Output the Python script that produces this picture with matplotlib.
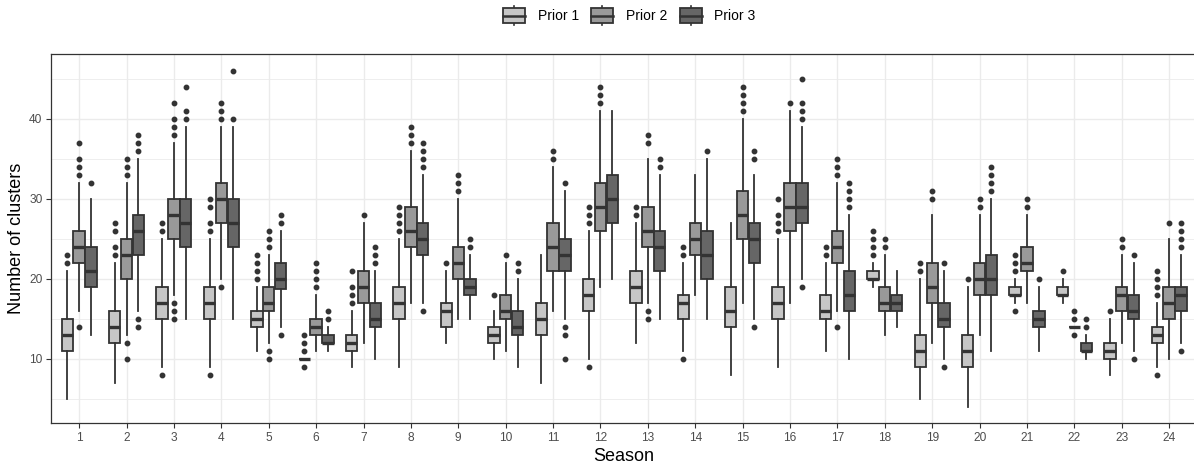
import matplotlib
matplotlib.use("Agg")
import matplotlib.pyplot as plt
from matplotlib.patches import Rectangle
from matplotlib.lines import Line2D
from matplotlib.legend_handler import HandlerBase

plt.rcParams['font.family'] = ['Liberation Sans', 'DejaVu Sans']

seasons = list(range(1, 25))
priors = ["Prior 1", "Prior 2", "Prior 3"]
fills = ["#c6c6c6", "#999999", "#666666"]

# box stats: q1, median, q3, whisker low, whisker high, outliers
p1_q1 = [11, 12, 15, 15, 14, 10, 11, 15, 14, 12, 13, 16, 17, 15, 14, 15, 15, 20, 9, 9, 18, 18, 10, 12]
p1_med = [13, 14, 17, 17, 15, 10, 12, 17, 16, 13, 15, 18, 19, 17, 16, 17, 16, 20, 11, 11, 18, 18, 11, 13]
p1_q3 = [15, 16, 19, 19, 16, 10, 13, 19, 17, 14, 17, 20, 21, 18, 19, 19, 18, 21, 13, 13, 19, 19, 12, 14]
p1_lo = [5, 7, 9, 9, 11, 10, 9, 9, 12, 10, 7, 10, 12, 11, 8, 9, 11, 19, 5, 4, 17, 17, 8, 9]
p1_hi = [21, 22, 25, 25, 19, 10, 16, 25, 21, 16, 23, 26, 27, 22, 27, 25, 22, 22, 20, 19, 20, 20, 15, 17]
p1_out = [[22, 23], [23, 24, 26, 27], [8, 26, 27], [8, 26, 27, 29, 30], [20, 21, 22, 23],
          [9, 11, 12, 13], [17, 18, 19, 21], [26, 27, 28, 29], [22], [18], [],
          [9, 27, 28, 29], [28, 29], [10, 23, 24], [], [26, 27, 28, 30], [23, 24],
          [23, 24, 25, 26], [21, 22], [20], [16, 21, 22, 23], [21], [16], [8, 18, 19, 20, 21]]

p2_q1 = [22, 20, 25, 27, 16, 13, 17, 24, 20, 15, 21, 26, 24, 23, 25, 26, 22, 16, 17, 18, 21, 14, 16, 15]
p2_med = [24, 23, 28, 30, 17, 14, 19, 26, 22, 16, 24, 29, 26, 25, 28, 29, 24, 17, 19, 20, 22, 14, 18, 17]
p2_q3 = [26, 25, 30, 32, 19, 15, 21, 29, 24, 18, 27, 32, 29, 27, 31, 32, 26, 19, 22, 22, 24, 14, 19, 19]
p2_lo = [16, 13, 18, 20, 12, 11, 12, 17, 15, 11, 16, 19, 17, 18, 17, 17, 16, 13, 12, 13, 17, 14, 12, 10]
p2_hi = [32, 32, 37, 39, 23, 18, 27, 36, 30, 22, 34, 41, 35, 33, 40, 41, 32, 23, 28, 28, 28, 14, 23, 25]
p2_out = [[14, 33, 34, 35, 37], [10, 12, 33, 34, 35], [15, 16, 17, 38, 39, 40, 42], [19, 40, 41, 42],
          [10, 11, 24, 25, 26], [19, 20, 21, 22], [28], [37, 38, 39], [31, 32, 33], [23],
          [35, 36], [42, 43, 44], [15, 16, 37, 38], [], [41, 42, 43, 44], [42],
          [14, 33, 34, 35], [24, 25], [30, 31], [29, 30], [29, 30], [13, 15, 16], [24, 25], [27]]

p3_q1 = [19, 23, 24, 24, 18.75, 12, 14, 23, 18, 13, 21, 27, 21, 20, 22, 27, 16, 16, 14, 18, 14, 11, 15, 16]
p3_med = [21, 26, 27, 27, 20, 12, 15, 25, 19, 14, 23, 30, 24, 23, 25, 29, 18, 17, 15, 20, 15, 11, 16, 18]
p3_q3 = [24, 28, 30, 30, 22, 13, 17, 27, 20, 16, 25, 33, 26, 26, 27, 32, 21, 18, 17, 23, 16, 12, 18, 19]
p3_lo = [13, 16, 15, 15, 14, 11, 10, 17, 15, 9, 15, 20, 15, 15, 15, 20, 10, 14, 10, 11, 11, 10, 11, 12]
p3_hi = [30, 35, 39, 39, 26, 14, 21, 33, 23, 20, 31, 41, 33, 35, 33, 39, 28, 21, 21, 30, 19, 13, 22, 23]
p3_out = [[32], [14, 15, 36, 37, 38], [40, 41, 44], [40, 46], [13, 27, 28], [15, 16],
          [22, 23, 24], [16, 34, 35, 36, 37], [24, 25], [21, 22], [10, 13, 14, 32], [],
          [34, 35], [36], [14, 35, 36], [19, 40, 41, 42, 45], [29, 30, 31, 32], [],
          [9, 22], [31, 32, 33, 34], [20], [14, 15], [10, 23], [11, 24, 25, 26, 27]]

all_stats = [
    (p1_q1, p1_med, p1_q3, p1_lo, p1_hi, p1_out),
    (p2_q1, p2_med, p2_q3, p2_lo, p2_hi, p2_out),
    (p3_q1, p3_med, p3_q3, p3_lo, p3_hi, p3_out),
]

edge = "#333333"
fig = plt.figure(figsize=(11.94, 4.68), dpi=100)
ax = fig.add_axes([0.0425, 0.0955, 0.9605, 0.789])

offsets = [-0.25, 0.0, 0.25]
for k, (q1, med, q3, lo, hi, out) in enumerate(all_stats):
    stats = []
    for i in range(len(seasons)):
        stats.append(dict(q1=q1[i], med=med[i], q3=q3[i], whislo=lo[i], whishi=hi[i], fliers=out[i]))
    pos = [s + offsets[k] for s in seasons]
    ax.bxp(stats, positions=pos, widths=0.24, patch_artist=True, showcaps=False,
           manage_ticks=False,
           boxprops=dict(facecolor=fills[k], edgecolor=edge, linewidth=1.3),
           medianprops=dict(color=edge, linewidth=2.4, solid_capstyle='butt'),
           whiskerprops=dict(color=edge, linewidth=1.3),
           flierprops=dict(marker='o', markerfacecolor=edge, markeredgecolor=edge,
                           markersize=3.2, linestyle='none'))

ax.set_xlim(0.4, 24.6)
ax.set_ylim(1.9, 48.1)
ax.set_xticks(seasons)
ax.set_xticklabels([str(s) for s in seasons])
ax.set_yticks([10, 20, 30, 40])
ax.set_yticks([5, 15, 25, 35, 45], minor=True)
ax.grid(True, which='major', color='#ebebeb', linewidth=1.0)
ax.grid(True, which='minor', axis='y', color='#ebebeb', linewidth=0.6)
ax.set_axisbelow(True)
for sp in ax.spines.values():
    sp.set_color(edge)
    sp.set_linewidth(0.9)
ax.tick_params(which='major', length=3.5, width=0.8, color=edge, labelcolor='#4d4d4d',
               labelsize=8.6, pad=2.5)
ax.tick_params(which='minor', length=0)
ax.set_xlabel("Season", fontsize=13, labelpad=3)
ax.set_ylabel("Number of clusters", fontsize=13, labelpad=3)


class BoxKey(HandlerBase):
    def create_artists(self, legend, orig_handle, xdescent, ydescent, width, height, fontsize, trans):
        x0, y0 = -xdescent, -ydescent
        bh = height * 0.74
        by = y0 + (height - bh) / 2
        rect = Rectangle((x0, by), width, bh, facecolor=orig_handle.get_facecolor(),
                         edgecolor=edge, linewidth=1.3, transform=trans)
        mid = y0 + height / 2
        med_line = Line2D([x0, x0 + width], [mid, mid], color=edge, linewidth=1.8, transform=trans)
        cx = x0 + width / 2
        top = Line2D([cx, cx], [by + bh, y0 + height], color=edge, linewidth=1.2, transform=trans)
        bot = Line2D([cx, cx], [y0, by], color=edge, linewidth=1.2, transform=trans)
        return [top, bot, rect, med_line]


handles = [Rectangle((0, 0), 1, 1, facecolor=c) for c in fills]
fig.legend(handles, priors, loc='upper center', bbox_to_anchor=(0.527, 1.005), ncol=3,
           frameon=False, fontsize=10, handlelength=1.6, handleheight=1.75,
           handletextpad=0.9, columnspacing=0.9, borderpad=0.1,
           handler_map={Rectangle: BoxKey()})

fig.savefig("out.png", dpi=100)
